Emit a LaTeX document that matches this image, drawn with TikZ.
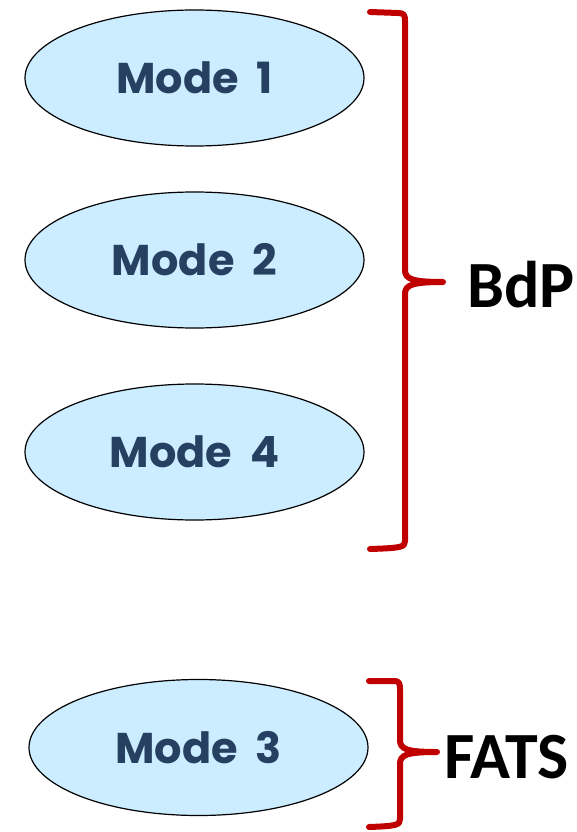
\documentclass[tikz,border=0pt]{standalone}
\usepackage{fontspec}
\usetikzlibrary{shapes.geometric}
\newfontfamily\modefontfam{Poppins}[BoldFont=* Bold]
\newfontfamily\labelfontfam{Carlito}
\definecolor{modefill}{HTML}{CCECFF}
\definecolor{modetext}{HTML}{254061}
\definecolor{bracered}{HTML}{C00000}
\newcommand{\modegap}{\hspace{18pt}}
\begin{document}
\begin{tikzpicture}[x=1pt,y=-1pt]
\useasboundingbox (0,0) rectangle (577,832);
\tikzset{
  mode/.style={ellipse, draw=black, line width=1.2pt, fill=modefill,
    minimum width=339pt, minimum height=136pt, inner sep=0pt,
    text=modetext, font=\modefontfam\bfseries\fontsize{43}{48}\selectfont},
  brace/.style={draw=bracered, line width=6pt, line cap=round, line join=round},
  lbl/.style={anchor=west, inner sep=0pt, font=\labelfontfam\bfseries\fontsize{66}{72}\selectfont}
}
\node[mode] (m1) at (194.5,78) {Mode\modegap 1};
\node[mode] (m2) at (194.5,260) {Mode\modegap 2};
\node[mode] (m4) at (194.5,452) {Mode\modegap 4};
\node[mode] (m3) at (198.5,747.5) {Mode\modegap 3};
% BdP brace
\coordinate (b1tip) at (443,282);
\draw[brace] (370,12) -- (398,13) .. controls (404,13) and (405,15) .. (405,21)
  -- (405,270) .. controls (405,279) and (412,282) .. (b1tip)
  .. controls (412,282) and (405,285) .. (405,294)
  -- (405,541) .. controls (405,547) and (402,548) .. (370,549);
\node[lbl] (bdp) at (467,285) {BdP};
% FATS brace
\coordinate (b2tip) at (437,752);
\draw[brace] (369,681) -- (395,681) .. controls (399,681) and (400,684) .. (400,689)
  -- (400,740) .. controls (400,749) and (406,752) .. (b2tip)
  .. controls (406,752) and (400,755) .. (400,764)
  -- (400,819) .. controls (400,825) and (397,826) .. (369,827);
\node[lbl] (fats) at (444,757) {FATS};
\end{tikzpicture}
\end{document}
